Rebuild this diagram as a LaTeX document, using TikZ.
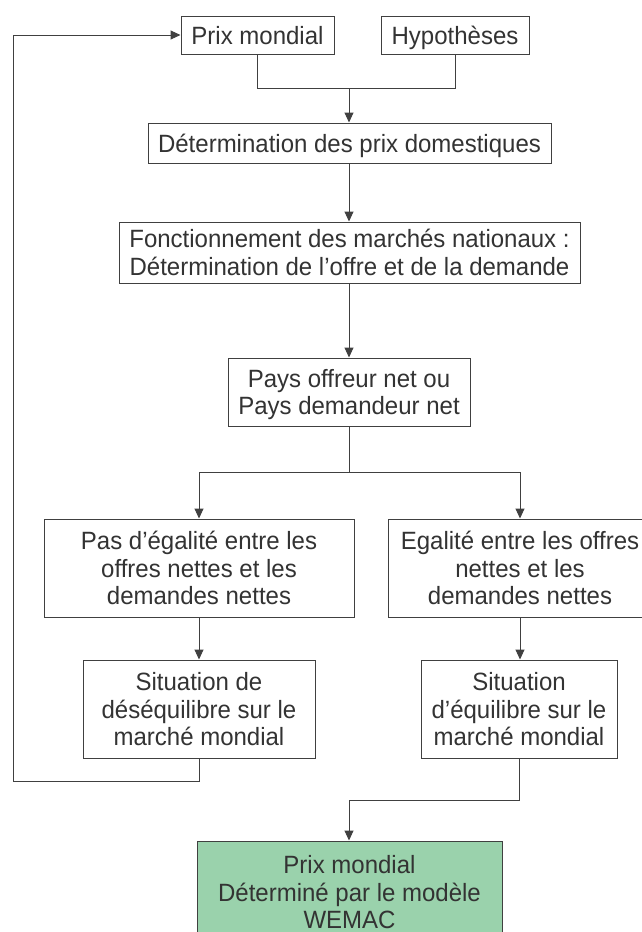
\documentclass[tikz,border=0pt]{standalone}
\usepackage{fontspec}
\setmainfont{Liberation Sans}[FakeStretch=0.96]
\usetikzlibrary{arrows.meta}
\definecolor{ink}{HTML}{333333}
\definecolor{edge}{HTML}{404040}
\definecolor{wemac}{HTML}{9AD2AC}
% Centred lines with fixed pitch; the box gets a fixed height (20pt above the
% first baseline) and depth (#1 below it), so the caps sit centred in the node.
\newcommand\boxlines[2]{\rule{0pt}{20pt}\rule[-#1]{0pt}{#1}%
  \smash{\begin{tabular}[t]{@{}c@{}}#2\end{tabular}}}
\newcommand\oneline[1]{\boxlines{2pt}{\smash{#1}}}
\newcommand\twolines[2]{\boxlines{29.5pt}{\smash{#1}\\\smash{#2}}}
\newcommand\threelines[3]{\boxlines{57pt}{\smash{#1}\\\smash{#2}\\\smash{#3}}}
\begin{document}
\begin{tikzpicture}[x=1pt,y=-1pt,
  box/.style={draw=edge, line width=1pt, fill=white, text=ink,
    inner sep=0pt, font=\fontsize{25}{27.5}\selectfont},
  link/.style={draw=edge, line width=1pt},
  arr/.style={link, -{Triangle[length=10pt,width=9pt]}}]
\useasboundingbox (0,0) rectangle (641,932);

% inputs
\node[box, minimum width=153pt, minimum height=38pt] (pm) at (257.5,35) {\oneline{Prix mondial}};
\node[box, minimum width=148pt, minimum height=38pt] (hyp) at (455,35) {\oneline{Hypothèses}};

% main chain
\node[box, minimum width=403pt, minimum height=40pt] (det) at (349.5,143)
  {\oneline{Détermination des prix domestiques}};
\node[box, minimum width=461pt, minimum height=61pt] (fon) at (349.5,252.5)
  {\twolines{Fonctionnement des marchés nationaux :}{Détermination de l’offre et de la demande}};
\node[box, minimum width=242pt, minimum height=68pt] (pays) at (349,392)
  {\twolines{Pays offreur net ou}{Pays demandeur net}};

% two branches
\node[box, minimum width=310pt, minimum height=98pt] (left) at (199,568)
  {\threelines{Pas d’égalité entre les}{offres nettes et les}{demandes nettes}};
\node[box, minimum width=264pt, minimum height=98pt] (right) at (520,568)
  {\threelines{Egalité entre les offres}{nettes et les}{demandes nettes}};
\node[box, minimum width=232pt, minimum height=98pt] (sitL) at (199,709)
  {\threelines{Situation de}{déséquilibre sur le}{marché mondial}};
\node[box, minimum width=196pt, minimum height=98pt] (sitR) at (519,709)
  {\threelines{Situation}{d’équilibre sur le}{marché mondial}};

% result
\node[box, fill=wemac, minimum width=305pt, minimum height=102pt] (res) at (349.5,892)
  {\threelines{Prix mondial}{Déterminé par le modèle}{WEMAC}};

% connectors
\coordinate (j1) at (349,88);
\draw[link] (pm.south) |- (j1);
\draw[link] (hyp.south) |- (j1);
\draw[arr] (j1) -- (j1 |- det.north);
\draw[arr] (det.south -| j1) -- (j1 |- fon.north);
\draw[arr] (fon.south -| j1) -- (j1 |- pays.north);

\coordinate (j2) at (349,472);
\draw[link] (j1 |- pays.south) -- (j2);
\draw[arr] (j2) -| (left.north);
\draw[arr] (j2) -| (right.north);
\draw[arr] (left.south) -- (sitL.north);
\draw[arr] (right.south) -- (right.south |- sitR.north);

% feedback loop
\coordinate (fb) at (13,781);
\draw[arr] (sitL.south) |- (fb) |- (pm.west);

% equilibrium to result
\coordinate (j3) at (349,800);
\draw[arr] (sitR.south) |- (j3) -- (j3 |- res.north);
\end{tikzpicture}
\end{document}
